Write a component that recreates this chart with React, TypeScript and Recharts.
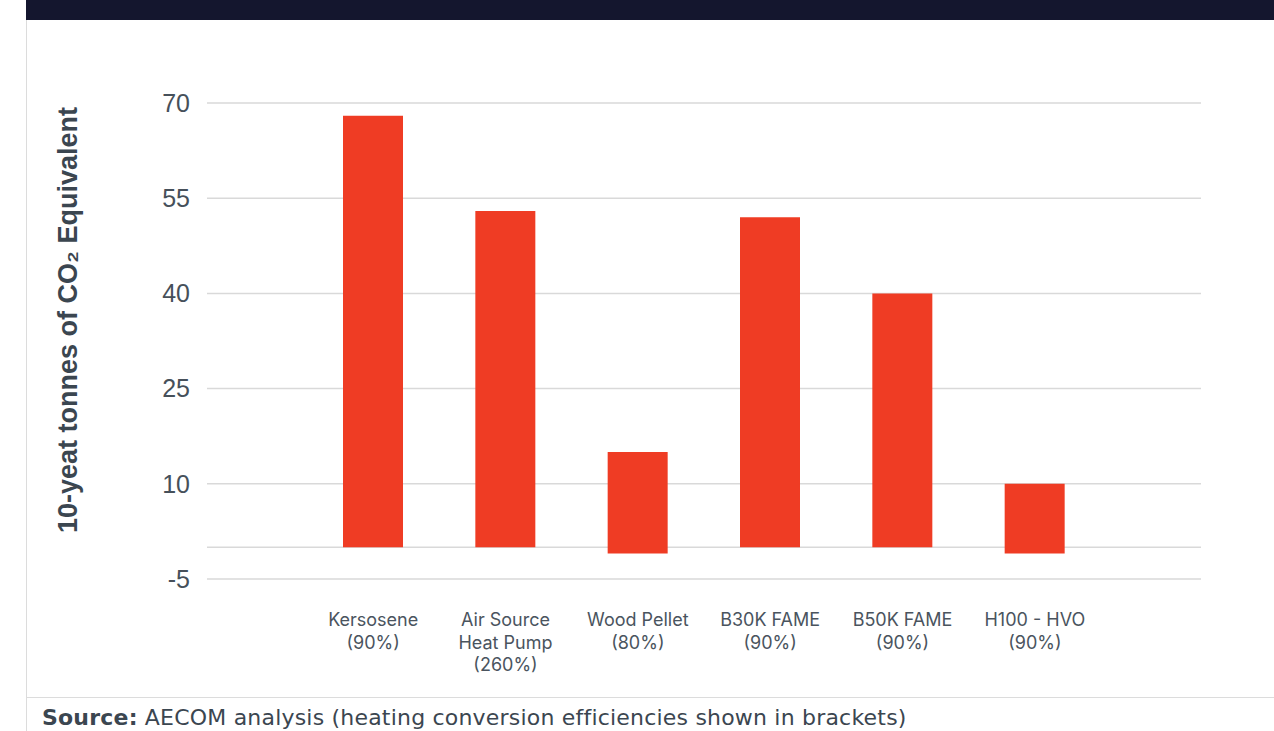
import React from "react";
import { BarChart, Bar, XAxis, YAxis, CartesianGrid } from "recharts";

const categories = ["Kersosene", "Air Source Heat Pump", "Wood Pellet", "B30K FAME", "B50K FAME", "H100 - HVO"];
const categoryLines: string[][] = [
  ["Kersosene", "(90%)"],
  ["Air Source", "Heat Pump", "(260%)"],
  ["Wood Pellet", "(80%)"],
  ["B30K FAME", "(90%)"],
  ["B50K FAME", "(90%)"],
  ["H100 - HVO", "(90%)"],
];
const lowValues = [0, 0, -1, 0, 0, -1];
const highValues = [68, 53, 15, 52, 40, 10];
const yTicks = [70, 55, 40, 25, 10, -5];
const gridValues = [70, 55, 40, 25, 10, 0, -5];

const data = categories.map((c, i) => ({
  name: c,
  range: [lowValues[i], highValues[i]],
}));

const XTick = (props: any) => {
  const { x, y, payload } = props;
  const idx = categories.indexOf(payload.value);
  const lines = idx >= 0 ? categoryLines[idx] : [payload.value];
  return (
    <text x={x} y={y} textAnchor="middle" fill="#4a545e" fontSize={18} fontFamily="Inter, 'Open Sans', sans-serif">
      {lines.map((l, i) => (
        <tspan key={i} x={x} dy={i === 0 ? 0 : 22.5}>
          {l}
        </tspan>
      ))}
    </text>
  );
};

const YLabel = () => (
  <text
    x={0}
    y={0}
    transform="translate(77, 320) rotate(-90)"
    textAnchor="middle"
    fill="#3b4650"
    fontSize={27}
    fontWeight={700}
    fontFamily="'Liberation Sans', Arial, sans-serif"
  >
    10-yeat tonnes of CO₂ Equivalent
  </text>
);

export default function App() {
  return (
    <div style={{ position: "absolute", left: 0, top: 0, width: 1274, height: 731, background: "#fff", overflow: "hidden" }}>
      <div style={{ position: "absolute", left: 26, top: 0, width: 1248, height: 20, background: "#14162e" }} />
      <div style={{ position: "absolute", left: 26, top: 20, width: 1, height: 711, background: "#dcdcdc" }} />
      <div style={{ position: "absolute", left: 26, top: 697, width: 1248, height: 1, background: "#dcdcdc" }} />
      <div
        style={{
          position: "absolute",
          left: 42,
          top: 704,
          fontSize: 22,
          letterSpacing: "0.2px",
          color: "#3b4650",
          fontFamily: "'DejaVu Sans', sans-serif",
          whiteSpace: "nowrap",
          lineHeight: "28px",
        }}
      >
        <b>Source:</b> AECOM analysis (heating conversion efficiencies shown in brackets)
      </div>
      <div style={{ position: "absolute", left: 0, top: 0 }}>
        <BarChart width={1274} height={731} data={data} margin={{ top: 103, right: 73, bottom: 122, left: 0 }}>
          <CartesianGrid horizontal vertical={false} stroke="#d9d9d9" strokeWidth={1.5} horizontalValues={gridValues} />
          <XAxis
            dataKey="name"
            axisLine={false}
            tickLine={false}
            interval={0}
            height={30}
            padding={{ left: 100, right: 100 }}
            tick={<XTick />}
            tickSize={0}
            tickMargin={47}
          />
          <YAxis
            domain={[-5, 70]}
            ticks={yTicks}
            width={207}
            axisLine={false}
            tickLine={false}
            tickSize={0}
            tickMargin={17}
            tick={{ fill: "#46505a", fontSize: 25, fontFamily: "'Liberation Sans', Arial, sans-serif" }}
            label={{ content: () => <YLabel /> }}
          />
          <Bar dataKey="range" fill="#ef3c24" barSize={60} isAnimationActive={false} />
        </BarChart>
      </div>
    </div>
  );
}
